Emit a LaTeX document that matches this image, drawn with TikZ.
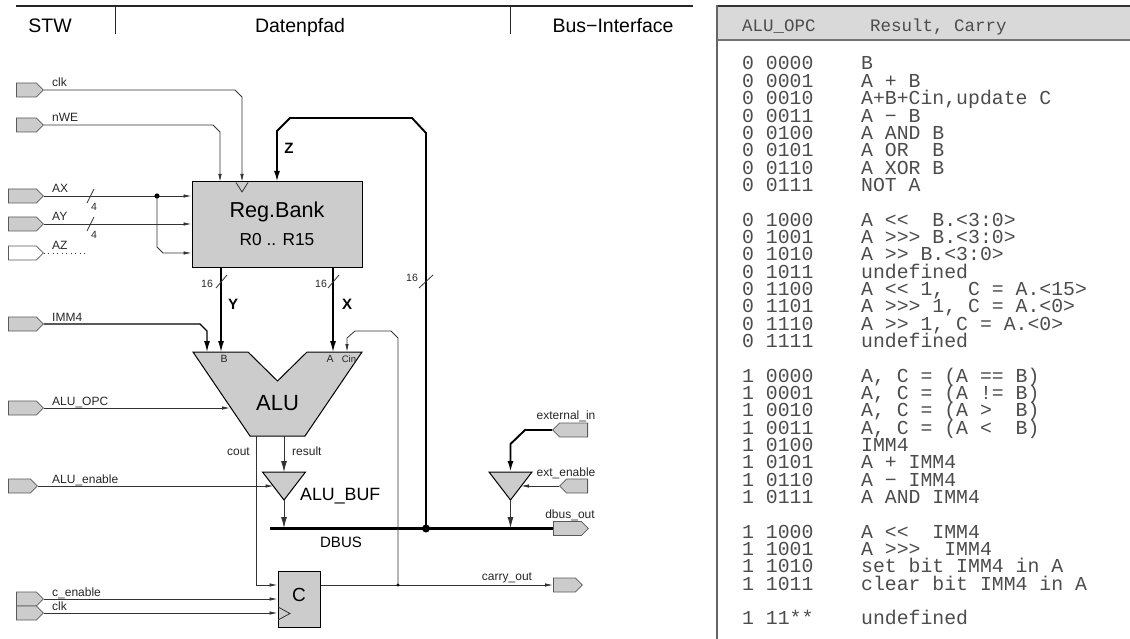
\documentclass[tikz,border=0pt]{standalone}
\usepackage{fontspec}
\setmainfont{Liberation Sans}
\newfontfamily\codefont{Liberation Mono}
\usetikzlibrary{arrows.meta,shapes.symbols,positioning}
\newcommand{\fsz}[1]{\fontsize{#1}{#1}\selectfont}

\tikzset{
  wire/.style={draw=black!80, line width=0.8pt},
  fatwire/.style={draw=black, line width=1.3pt},
  zwire/.style={draw=black, line width=1.9pt},
  dbus/.style={draw=black, line width=3.2pt},
  sarr/.style={-{Latex[length=8pt,width=3.5pt]}},
  barr/.style={-{Latex[length=11pt,width=6pt]}},
  pin/.style={shape=signal, signal to=east, signal from=nowhere, draw=black!65,
    fill=black!20, line width=0.8pt, minimum height=14pt, inner sep=0pt, anchor=west},
  pinl/.style={pin, signal to=west, anchor=east},
  sig/.style={font=\fsz{12}, text=black!85, inner sep=0pt, anchor=base west},
  sigc/.style={sig, anchor=base},
  tiny/.style={font=\fsz{10.5}, text=black!85, inner sep=0pt},
  head/.style={font=\fsz{19.5}, inner sep=0pt, anchor=base},
  unit/.style={draw=black, fill=black!20, line width=1pt},
  opctxt/.style={font=\codefont\fsz{19.8}, text=black!70, inner sep=0pt,
    text height=12pt, text depth=3pt, anchor=base west}
}

\begin{document}
\begin{tikzpicture}[x=1pt,y=-1pt]
  \useasboundingbox (0,0) rectangle (1130,639);
  % header of the data path part
  \draw[line width=1.4pt, black!85] (16,6) -- (693,6);
  \draw[line width=1pt, black!85] (115,6) -- (115,34);
  \draw[line width=1pt, black!85] (510,6) -- (510,34);
  \node[head] (stw) at (50,33) {STW};
  \node[head] (dpfad) at (300,33) {Datenpfad};
  \node[head] (busif) at (613,33) {Bus−Interface};

  % register bank
  \node[unit, minimum width=170pt, minimum height=85pt] (bank) at (277,224.5) {};
  \node[font=\fsz{21.6}, inner sep=0pt, anchor=base] (banktxt) at (277,218) {Reg.Bank};
  \node[font=\fsz{17.3}, inner sep=0pt, anchor=base] (bankrng) at (277,246) {R0 .. R15};
  \draw[wire] (236,182.5) -- (242,192) -- (248,182.5);

  % input pins on the left
  \node[pin, minimum width=27pt] (pclk)  at (16,90)  {};
  \node[pin, minimum width=27pt] (pnwe)  at (16,125) {};
  \node[pin, minimum width=35pt] (pax)   at (8,196)  {};
  \node[pin, minimum width=35pt] (pay)   at (8,224)  {};
  \node[pin, minimum width=35pt, fill=white] (paz) at (8,253) {};
  \node[pin, minimum width=35pt] (pimm)  at (8,324)  {};
  \node[pin, minimum width=35pt] (popc)  at (8,408)  {};
  \node[pin, minimum width=29pt] (paen)  at (8,486)  {};
  \node[pin, minimum width=27pt] (pcen)  at (16,599) {};
  \node[pin, minimum width=27pt] (pcclk) at (16,613) {};
  \node[sig] (lclk)  at (52,87)  {clk};
  \node[sig] (lnwe)  at (52,122) {nWE};
  \node[sig] (lax)   at (52,193) {AX};
  \node[sig] (lay)   at (52,221) {AY};
  \node[sig] (laz)   at (52,250) {AZ};
  \node[sig] (limm)  at (52,321) {IMM4};
  \node[sig] (lopc)  at (52,405) {ALU\_OPC};
  \node[sig] (laen)  at (52,483) {ALU\_enable};
  \node[sig] (lcen)  at (52,596) {c\_enable};
  \node[sig] (lcclk) at (52,610) {clk};

  % pins of the bus interface
  \node[pinl, minimum width=35pt] (pext)  at (588,430) {};
  \node[pinl, minimum width=28pt] (pxen)  at (588,486) {};
  \node[pin,  minimum width=35pt] (pdbus) at (553,528.5) {};
  \node[pin,  minimum width=29pt] (pcar)  at (553,585) {};
  \node[sigc] (lext)  at (566,419) {external\_in};
  \node[sigc] (lxen)  at (566,476) {ext\_enable};
  \node[sigc] (ldbus) at (570,518) {dbus\_out};
  \node[sigc] (lcar)  at (507,580) {carry\_out};

  % control and address lines of the bank
  \coordinate (bclk) at (242,182);
  \coordinate (bwe)  at (220,182);
  \coordinate (bz)   at (277,182);
  \draw[wire,sarr] (pclk.east) -- (235,90) -- (242,97) -- (bclk);
  \draw[wire,sarr] (pnwe.east) -- (213,125) -- (220,132) -- (bwe);
  \draw[wire,sarr] (pax.east) -- (bank.west |- pax.east);
  \draw[wire,sarr] (pay.east) -- (bank.west |- pay.east);
  \coordinate (axdot) at (157,196);
  \fill[black] (axdot) circle (2.6pt);
  \draw[wire,sarr] (axdot) -- (157,247) -- (163,253) -- (bank.west |- paz.east);
  \draw[wire, dash pattern=on 1pt off 3.5pt] (paz.east) -- ++(42,0);
  \draw[wire] (87,203) -- (94,189);
  \draw[wire] (87,231) -- (94,217);
  \node[tiny] (wax) at (94,207) {4};
  \node[tiny] (way) at (94,235) {4};

  % ALU
  \filldraw[unit] (193,352) -- (248,352) -- (277.5,381) -- (307,352) -- (362,352)
    -- (305,436) -- (250,436) -- cycle;
  \node[font=\fsz{22}, inner sep=0pt, anchor=base] (alu) at (277.5,410) {ALU};
  \node[tiny] (alub) at (224,359) {B};
  \node[tiny] (alua) at (330,359) {A};
  \node[font=\fsz{9.5}, text=black!85, inner sep=0pt] (alucin) at (349,359.5) {Cin};
  \coordinate (aluB)   at (221,352);
  \coordinate (aluI)   at (207,352);
  \coordinate (aluA)   at (333,352);
  \coordinate (aluC)   at (347,352);
  \coordinate (aluop)  at (230,408);
  \coordinate (alucy)  at (256,436);
  \coordinate (alures) at (284,436);

  % bank outputs Y, X
  \draw[fatwire,barr] (aluB |- bank.south) -- (aluB);
  \draw[fatwire,barr] (aluA |- bank.south) -- (aluA);
  \draw[wire] (216,288) -- (227,275);
  \draw[wire] (328,288) -- (339,275);
  \node[tiny] (wy) at (207,284) {16};
  \node[tiny] (wx) at (321,284) {16};
  \node[font=\bfseries\fsz{15}, inner sep=0pt] (ly) at (233,304) {Y};
  \node[font=\bfseries\fsz{15}, inner sep=0pt] (lx) at (347,304) {X};
  \draw[fatwire,barr] (pimm.east) -- (200,324) -- (207,331) -- (aluI);
  \draw[wire,sarr] (popc.east) -- (aluop);

  % ALU buffer and data bus
  \filldraw[unit] (262.5,472) -- (305.5,472) -- (284,500) -- cycle;
  \node[font=\fsz{17.8}, inner sep=0pt, anchor=base west] (abuf) at (300,500) {ALU\_BUF};
  \draw[wire,barr] (alures) -- (284,472);
  \draw[wire,sarr] (paen.east) -- (273.5,486);
  \draw[wire,barr] (284,500) -- (284,528);
  \node[sig, anchor=base east] (lcout) at (250,455) {cout};
  \node[sig] (lres) at (292,455) {result};
  \coordinate (zjoint) at (426,528.5);
  \draw[dbus] (270,528.5) -- (pdbus.west);
  \fill[black] (zjoint) circle (4pt);
  \node[font=\fsz{15}, inner sep=0pt, anchor=base] (ldbusn) at (341,547) {DBUS};

  % write back Z
  \draw[zwire,barr] (zjoint) -- (426,133) -- (412,118) -- (290,118) -- (277,131) -- (bz);
  \node[font=\bfseries\fsz{15}, inner sep=0pt] (lz) at (289,148) {Z};
  \draw[wire] (419,288) -- (433,275);
  \node[tiny] (wz) at (412,278) {16};

  % external input buffer
  \filldraw[unit] (489,472) -- (532,472) -- (510.5,500) -- cycle;
  \draw[zwire,barr] (pext.west) -- (525,430) -- (510.5,444) -- (510.5,472);
  \draw[wire,sarr] (pxen.west) -- (521,486);
  \draw[wire,barr] (510.5,500) -- (510.5,528);

  % carry flag
  \node[unit, minimum width=42pt, minimum height=56pt] (creg) at (299,599) {};
  \node[font=\fsz{19}, inner sep=0pt, anchor=base] (cname) at (299,601) {C};
  \draw[wire] (278,607) -- (290,613.5) -- (278,620);
  \draw[wire,sarr] (alucy) |- (creg.west |- pcar.west);
  \draw[wire,sarr] (pcen.east) -- (creg.west |- pcen.east);
  \draw[wire,sarr] (pcclk.east) -- (creg.west |- pcclk.east);
  \coordinate (cdot) at (398,585);
  \draw[wire,sarr] (creg.east |- pcar.west) -- (pcar.west);
  \fill[black] (cdot) circle (1.6pt);
  \draw[wire,sarr] (cdot) -- (398,338) -- (391,331) -- (355,331) -- (347,338) -- (aluC);

  % opcode table
  \fill[black!15] (717,6) rectangle (1130,40);
  \draw[line width=1.5pt, black!80] (717,6) -- (1130,6);
  \draw[line width=1.5pt, black!55] (717,40) -- (1130,40);
  \draw[line width=2pt, black!60] (717,5.3) -- (717,639);
  \node[opctxt, font=\codefont\fsz{17.5}] (hopc) at (742,32) {ALU\_OPC};
  \node[opctxt, font=\codefont\fsz{17.5}] (hres) at (870,32) {Result, Carry};
  \foreach \n/\opc/\res in {
    0/0 0000/B, 1/0 0001/A + B, 2/0 0010/{A+B+Cin,update C}, 3/0 0011/A − B,
    4/0 0100/A AND B, 5/0 0101/A OR ~B, 6/0 0110/A XOR B, 7/0 0111/NOT A,
    9/0 1000/A << ~B.<3:0>, 10/0 1001/A >>> B.<3:0>, 11/0 1010/A >> B.<3:0>,
    12/0 1011/undefined, 13/0 1100/{A << 1, ~C = A.<15>},
    14/0 1101/{A >>> 1, C = A.<0>}, 15/0 1110/{A >> 1, C = A.<0>}, 16/0 1111/undefined,
    18/1 0000/{A, C = (A == B)}, 19/1 0001/{A, C = (A != B)},
    20/1 0010/{A, C = (A > ~B)}, 21/1 0011/{A, C = (A < ~B)},
    22/1 0100/IMM4, 23/1 0101/A + IMM4, 24/1 0110/A − IMM4, 25/1 0111/A AND IMM4,
    27/1 1000/A << ~IMM4, 28/1 1001/A >>> ~IMM4, 29/1 1010/set bit IMM4 in A,
    30/1 1011/clear bit IMM4 in A, 32/1 11**/undefined}{
    \node[opctxt] (c\n) at (742,70+17.34*\n) {\opc};
    \node[opctxt] (r\n) at (861,70+17.34*\n) {\res};
  }
\end{tikzpicture}
\end{document}
